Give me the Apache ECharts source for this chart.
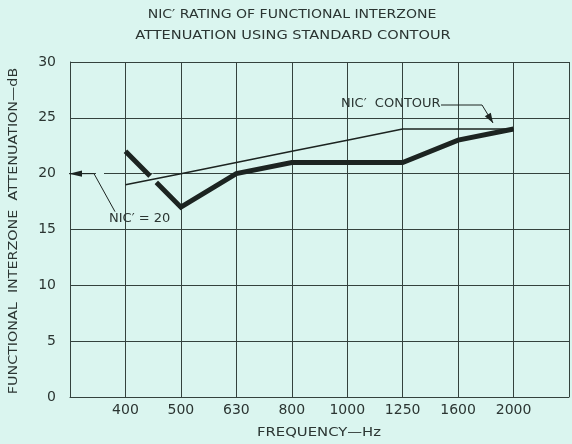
<!DOCTYPE html>
<html>
<head>
<meta charset="utf-8">
<script src="https://cdn.jsdelivr.net/npm/echarts@6/dist/echarts.min.js"></script>
<style>
  html, body { margin: 0; padding: 0; background: #daf5ef; }
  #chart { width: 572px; height: 444px; }
</style>
</head>
<body>
<div id="chart"></div>
<script>
// One-third-octave band centres plotted along the frequency axis
const bandFreqs = ['400', '500', '630', '800', '1000', '1250', '1600', '2000'];
// Axis tick labels: index 0 (left edge) and 9 (right edge) stay blank
const xTickLabels = ['', '400', '500', '630', '800', '1000', '1250', '1600', '2000', ''];
const yTickLabels = ['0', '5', '10', '15', '20', '25', '30'];
// Standard NIC' contour fitted at 20 dB (value at 500 Hz)
const contourDb = [19, 20, 21, 22, 23, 24, 24, 24];
// Measured functional interzone attenuation, dB
const measuredDb = [22, 17, 20, 21, 21, 21, 23, 24];
const nicRating = 20;

const BG = '#daf5ef';
const INK = '#1c2421';
const GRID = '#34423d';
const TEXT = '#2b3532';
const FONT = '"DejaVu Sans", sans-serif';

// band i sits at axis position i + 1
const toPts = vals => vals.map((v, i) => [i + 1, v]);
const measuredPts = toPts(measuredDb);
const contourPts = toPts(contourDb);

// Where the measured curve crosses the contour, the heavy line is broken
function crossings(a, b) {
  const out = [];
  for (let i = 0; i < a.length - 1; i++) {
    const d0 = a[i][1] - b[i][1];
    const d1 = a[i + 1][1] - b[i + 1][1];
    if (d0 * d1 < 0) {
      const t = d0 / (d0 - d1);
      const x = a[i][0] + t * (a[i + 1][0] - a[i][0]);
      const y = a[i][1] + t * (a[i + 1][1] - a[i][1]);
      out.push([x, y, i]);
    }
  }
  return out;
}
const breaks = crossings(measuredPts, contourPts);

const chart = echarts.init(document.getElementById('chart'), null, { renderer: 'canvas' });

chart.setOption({
  backgroundColor: BG,
  animation: false,
  grid: { left: 70, right: -3, top: 62, bottom: 47, containLabel: false },
  xAxis: {
    type: 'value', min: 0, max: 9, interval: 1,
    axisLine: { show: true, lineStyle: { color: GRID, width: 1 } },
    axisTick: { show: false },
    splitLine: { show: true, lineStyle: { color: GRID, width: 1 } },
    axisLabel: {
      color: TEXT, fontFamily: FONT, fontSize: 14, margin: 6,
      showMinLabel: true, showMaxLabel: true,
      formatter: v => xTickLabels[Math.round(v)] || ''
    }
  },
  yAxis: {
    type: 'value', min: 0, max: 30, interval: 5,
    axisLine: { show: true, lineStyle: { color: GRID, width: 1 } },
    axisTick: { show: false },
    splitLine: { show: true, lineStyle: { color: GRID, width: 1 } },
    axisLabel: {
      color: TEXT, fontFamily: FONT, fontSize: 14, margin: 14,
      formatter: v => yTickLabels[Math.round(v / 5)]
    }
  },
  series: [
    {
      name: 'measured', type: 'line', data: measuredPts, z: 2,
      symbol: 'none', lineStyle: { color: INK, width: 5, cap: 'butt', join: 'miter' }
    },
    {
      name: 'break', type: 'custom', z: 3, data: breaks,
      renderItem: (params, api) => {
        const k = params.dataIndex;
        const seg = breaks[k][2];
        const p = api.coord([breaks[k][0], breaks[k][1]]);
        const a = api.coord(measuredPts[seg]);
        const b = api.coord(measuredPts[seg + 1]);
        const len = Math.hypot(b[0] - a[0], b[1] - a[1]);
        const ux = (b[0] - a[0]) / len, uy = (b[1] - a[1]) / len;
        const h = 4.5;
        return {
          type: 'line',
          shape: { x1: p[0] - ux * h, y1: p[1] - uy * h, x2: p[0] + ux * h, y2: p[1] + uy * h },
          style: { stroke: BG, lineWidth: 8, lineCap: 'butt' }
        };
      }
    },
    {
      name: 'contour', type: 'line', data: contourPts, z: 4,
      symbol: 'none', lineStyle: { color: INK, width: 1.6 }
    }
  ]
});

// Annotations: titles, axis names and the leader arrows
const px = (x, y) => chart.convertToPixel({ gridIndex: 0 }, [x, y]);
const axisOrigin = px(0, nicRating);
const contourTip = px(7.63, contourDb[contourDb.length - 1]);

function arrowHead(tip, from, len, half) {
  const dx = tip[0] - from[0], dy = tip[1] - from[1];
  const d = Math.hypot(dx, dy);
  const ux = dx / d, uy = dy / d;
  const bx = tip[0] - ux * len, by = tip[1] - uy * len;
  return {
    type: 'polygon', z: 20,
    shape: { points: [tip, [bx - uy * half, by + ux * half], [bx + uy * half, by - ux * half]] },
    style: { fill: INK }
  };
}

const tip20 = [axisOrigin[0] - 1, axisOrigin[1]];
const elbow20 = [tip20[0] + 25, tip20[1]];
const foot20 = [elbow20[0] + 21, elbow20[1] + 38];

const tipC = [contourTip[0], contourTip[1] - 6];
const elbowC = [tipC[0] - 11, tipC[1] - 18];
const startC = [441, elbowC[1]];

// stretched text, to get the wide drafting lettering
const txt = (text, x, y, align, sx) => ({
  type: 'text', z: 20, x, y, scaleX: sx || 1,
  style: { text, x: 0, y: 0, fill: TEXT, font: '13px ' + FONT, textAlign: align, textVerticalAlign: 'middle' }
});

chart.setOption({
  graphic: [
    txt('NIC\u2032 RATING OF FUNCTIONAL INTERZONE', 292, 15, 'center', 1.08),
    txt('ATTENUATION USING STANDARD CONTOUR', 293, 36, 'center', 1.12),
    txt('FREQUENCY\u2014Hz', 319, 433, 'center', 1.14),
    {
      type: 'text', z: 20, x: 14, y: 231, rotation: Math.PI / 2, scaleX: 1.1,
      style: { text: 'FUNCTIONAL  INTERZONE  ATTENUATION\u2014dB', x: 0, y: 0, fill: TEXT,
               font: '13px ' + FONT, textAlign: 'center', textVerticalAlign: 'middle' }
    },
    // gap in the 20 dB grid line beside the leader
    { type: 'rect', z: 15, shape: { x: elbow20[0] + 2, y: tip20[1] - 1.5, width: 8, height: 3 }, style: { fill: BG } },
    txt('NIC\u2032 = 20', 109, 219, 'left'),
    { type: 'polyline', z: 20, shape: { points: [tip20, elbow20, foot20] }, style: { stroke: INK, lineWidth: 1, fill: null } },
    arrowHead(tip20, elbow20, 13, 3.2),
    txt('NIC\u2032  CONTOUR', 341, 104, 'left'),
    { type: 'polyline', z: 20, shape: { points: [startC, elbowC, tipC] }, style: { stroke: INK, lineWidth: 1, fill: null } },
    arrowHead(tipC, elbowC, 10, 3.5)
  ]
});
</script>
</body>
</html>
